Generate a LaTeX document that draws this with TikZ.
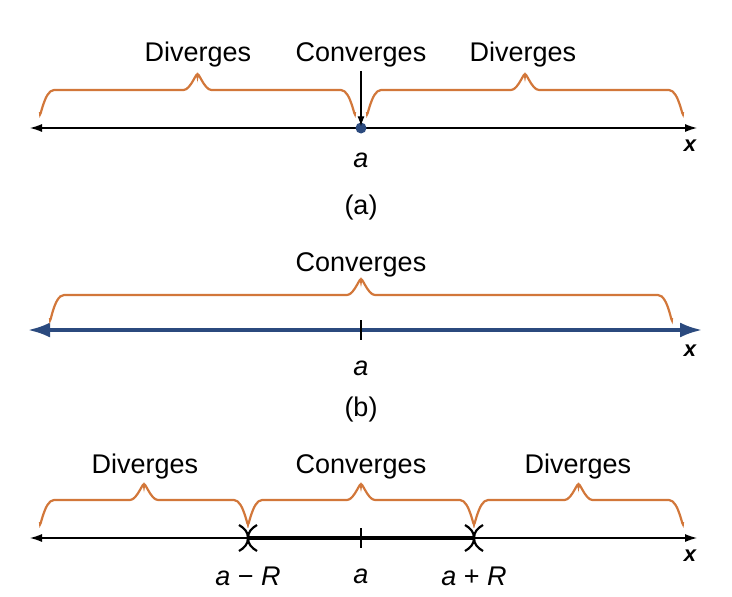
\documentclass[tikz,border=0pt]{standalone}
\usepackage{fontspec}
\setmainfont{Liberation Sans}
\usetikzlibrary{arrows.meta}
\definecolor{br}{HTML}{D2773A}
\definecolor{bl}{HTML}{2B4A7E}
\newcommand\mybrace[4]{%
 \pgfmathsetmacro\bA{#1+14}\pgfmathsetmacro\bM{(#1+#2)/2}%
 \pgfmathsetmacro\bMa{\bM-14}\pgfmathsetmacro\bMb{\bM+14}%
 \pgfmathsetmacro\bB{#2-14}\pgfmathsetmacro\bT{#3-14}%
 \draw[brace] (#1,#4) to[out=-90,in=180] (\bA,#3) -- (\bMa,#3) to[out=0,in=90] (\bM,\bT) to[out=90,in=180] (\bMb,#3) -- (\bB,#3) to[out=0,in=-90] (#2,#4);}
\begin{document}
\begin{tikzpicture}[x=1pt,y=-1pt,
 lab/.style={font=\fontsize{27}{30}\selectfont},
 brace/.style={br,line width=2.2pt},
 ax/.style={line width=1.1pt},
 tk/.style={line width=1.1pt}]
\useasboundingbox (0,0) rectangle (732,597);
% (a)
\coordinate (aL) at (30,128); \coordinate (aR) at (697,128);
\draw[ax,{Latex[length=12pt,width=8pt]}-{Latex[length=12pt,width=8pt]}] (aL) -- (aR);
\mybrace{40}{355}{90}{112}
\mybrace{367}{683}{90}{112}
\node[lab] (d1) at (198,55) {Diverges};
\node[lab] (c1) at (361,55) {Converges};
\node[lab] (d2) at (523,55) {Diverges};
\node[circle,fill=bl,inner sep=0,minimum size=11pt] (pa) at (361,128) {};
\draw[line width=1.1pt,-{Latex[length=10pt,width=7pt]}] (c1.south) -- ([yshift=-4pt]pa.north);
\node[font=\fontsize{27}{30}\selectfont\itshape] (la) at (361,160) {a};
\node[font=\fontsize{22}{24}\selectfont\bfseries\itshape] (xa) at (690,146) {x};
\node[lab] (ca) at (361,208) {(a)};
% (b)
\draw[bl,line width=3.2pt,{Latex[length=22pt,width=15pt]}-{Latex[length=22pt,width=15pt]}] (28,330) -- (702,330);
\draw[tk] (361,320) -- (361,340);
\mybrace{50}{672}{295}{318}
\node[lab] (c2) at (361,265) {Converges};
\node[font=\fontsize{27}{30}\selectfont\itshape] (lb) at (361,368) {a};
\node[font=\fontsize{22}{24}\selectfont\bfseries\itshape] (xb) at (690,351) {x};
\node[lab] (cb) at (361,410) {(b)};
% (c)
\draw[ax,{Latex[length=12pt,width=8pt]}-{Latex[length=12pt,width=8pt]}] (30,538) -- (697,538);
\draw[line width=3.5pt] (248,538) -- (474,538);
\draw[tk] (361,528) -- (361,548);
\foreach \p in {248,474}{
 \draw[line width=2.2pt] ([xshift=-9pt]\p,525) to[out=-30,in=90] (\p,538) to[out=-90,in=30] ([xshift=-9pt]\p,551);
 \draw[line width=2.2pt] ([xshift=9pt]\p,525) to[out=-150,in=90] (\p,538) to[out=-90,in=150] ([xshift=9pt]\p,551);}
\mybrace{40}{248}{500}{522}
\mybrace{248}{474}{500}{522}
\mybrace{474}{683}{500}{522}
\node[lab] (d3) at (145,467) {Diverges};
\node[lab] (c3) at (361,467) {Converges};
\node[lab] (d4) at (578,467) {Diverges};
\node[lab] (l1) at (248,576) {\itshape a\upshape\ − \itshape R};
\node[font=\fontsize{27}{30}\selectfont\itshape] (l2) at (361,576) {a};
\node[lab] (l3) at (474,576) {\itshape a\upshape\ + \itshape R};
\node[font=\fontsize{22}{24}\selectfont\bfseries\itshape] (xc) at (690,556) {x};
\end{tikzpicture}
\end{document}
